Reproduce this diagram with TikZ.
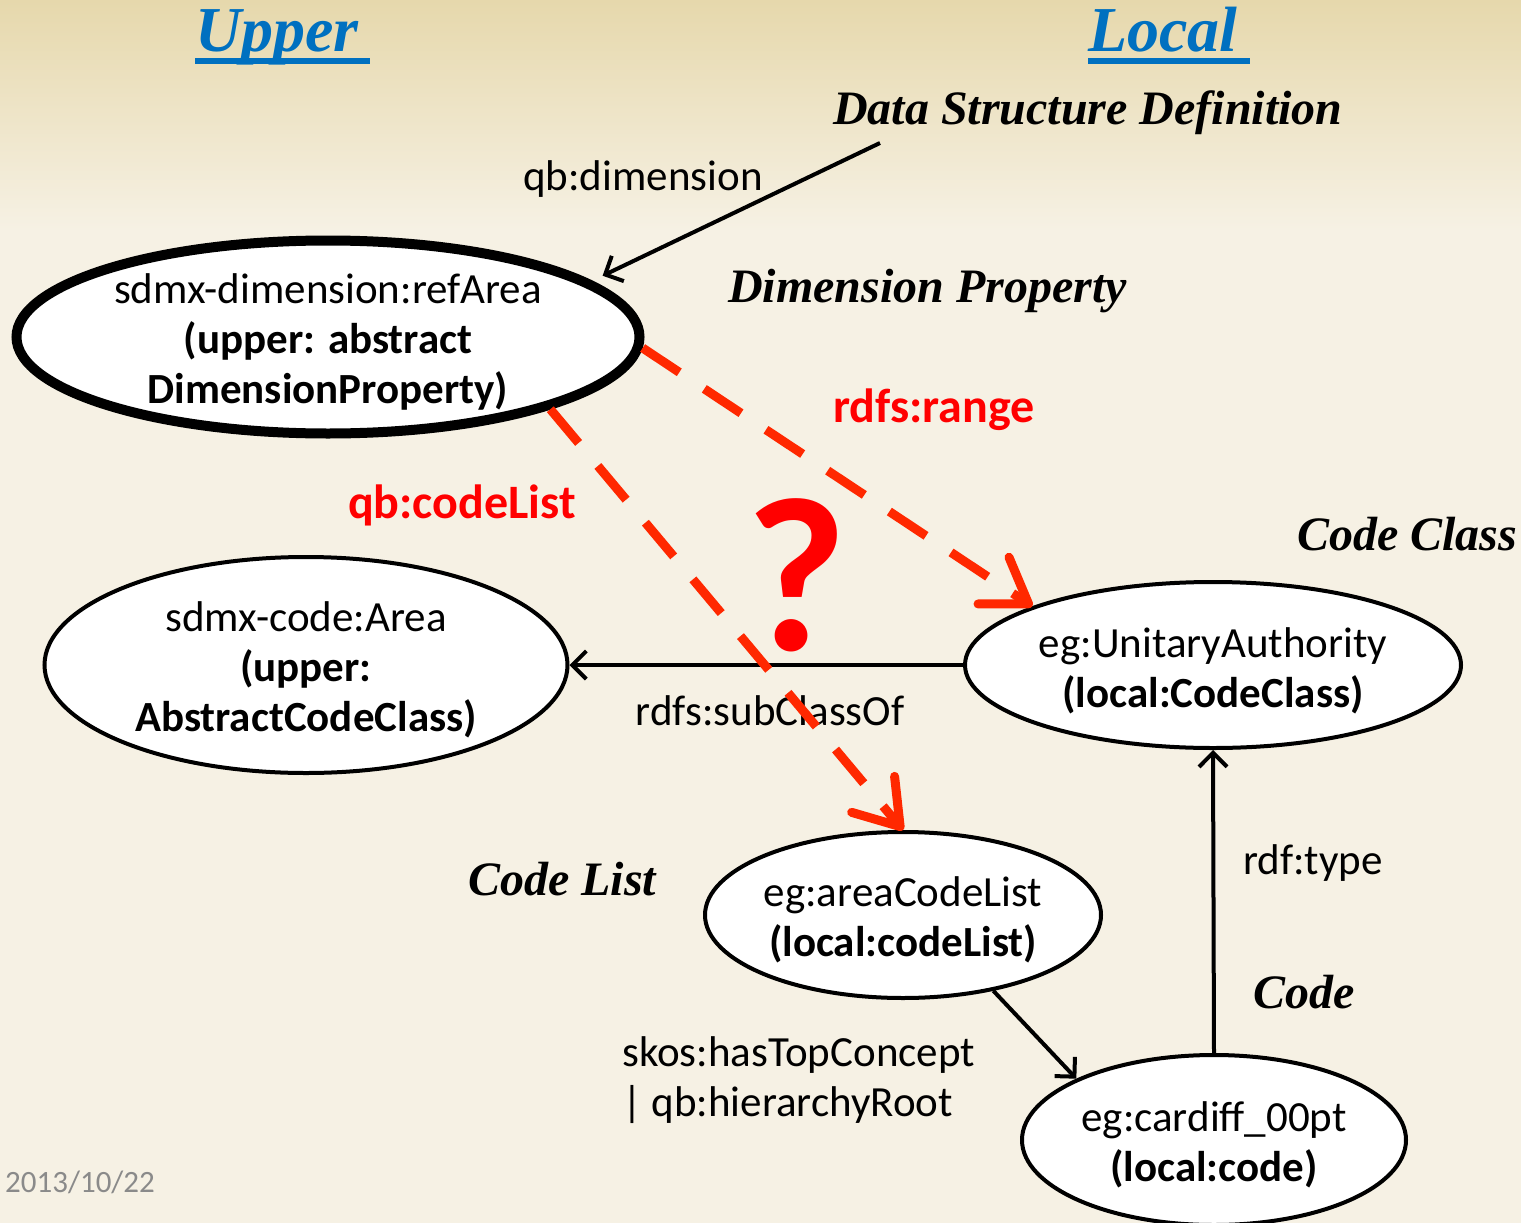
\documentclass[tikz,border=0pt]{standalone}
\usepackage{fontspec}
\setmainfont{Carlito}
\newfontfamily\headfont{Liberation Serif}
\usepackage{xcolor}
\usepackage{tikz}
\usetikzlibrary{shapes,arrows.meta,positioning}

\definecolor{bgtop}{HTML}{E6D8AC}
\definecolor{bgbody}{HTML}{F6F1E4}
\definecolor{titleblue}{HTML}{0070C0}
\definecolor{dashred}{HTML}{FF2800}
\definecolor{labelred}{HTML}{FF0000}
\definecolor{dategray}{HTML}{8A8A8A}

\begin{document}
\begin{tikzpicture}[x=1pt, y=-1pt]
    % Define styles
    \tikzstyle{concept} = [ellipse, draw=black, line width=4pt, fill=white, inner sep=0pt]
    \tikzstyle{keyconcept} = [concept, line width=10pt]
    \tikzstyle{nodetext} = [align=center, font=\fontsize{43}{50}\selectfont, inner sep=0pt]
    \tikzstyle{heading} = [anchor=base west, inner sep=0pt, font=\headfont\bfseries\itshape\fontsize{48}{56}\selectfont]
    \tikzstyle{side} = [heading, text=titleblue, font=\headfont\bfseries\itshape\fontsize{64}{72}\selectfont]
    \tikzstyle{tag} = [font=\fontsize{43}{50}\selectfont, inner sep=0pt]
    \tikzstyle{redtag} = [tag, text=labelred, font=\bfseries\fontsize{48}{56}\selectfont]
    \tikzstyle{link} = [line width=4pt, -{Straight Barb[length=14pt, width=28pt]}]
    \tikzstyle{redlink} = [draw=dashred, line width=9pt, dash pattern=on 44pt off 30pt, -{Straight Barb[length=42pt, width=56pt, round]}]

    % Background
    \shade[top color=bgtop, bottom color=bgbody] (0,0) rectangle (1521,230);
    \fill[bgbody] (0,229) rectangle (1521,1223);
    \useasboundingbox (0,0) rectangle (1521,1223);

    % Headings
    \node[side] (upper) at (195,52) {Upper};
    \node[side] (local) at (1088,52) {Local};
    \draw[titleblue, line width=6pt] ([yshift=-9pt]upper.base west) -- ++(175,0);
    \draw[titleblue, line width=6pt] ([yshift=-9pt]local.base west) -- ++(162,0);
    \node[heading] (dsd) at (833,124) {Data Structure Definition};
    \node[heading] (dimprop) at (728,302) {Dimension Property};
    \node[heading] (codeclass) at (1297,550) {Code Class};
    \node[heading] (codelisthd) at (468,895) {Code List};
    \node[heading] (codehd) at (1253,1008) {Code};

    % Nodes
    \node[keyconcept, minimum width=623pt, minimum height=193pt] (refarea) at (328,337) {};
    \node[nodetext] at ([yshift=-5pt]refarea) {sdmx-dimension:refArea\\\textbf{(upper: abstract}\\\textbf{DimensionProperty)}};
    \node[concept, minimum width=523pt, minimum height=216pt] (area) at (306,665) {};
    \node[nodetext] at ([yshift=-5pt]area) {sdmx-code:Area\\\textbf{(upper:}\\\textbf{AbstractCodeClass)}};
    \node[concept, minimum width=496pt, minimum height=166pt] (unitary) at (1213,665) {};
    \node[nodetext] at ([yshift=-6pt]unitary) {eg:UnitaryAuthority\\\textbf{(local:CodeClass)}};
    \node[concept, minimum width=396pt, minimum height=166pt] (arealist) at (903,915) {};
    \node[nodetext] at ([yshift=-5pt]arealist) {eg:areaCodeList\\\textbf{(local:codeList)}};
    \node[concept, minimum width=384pt, minimum height=170pt] (cardiff) at (1214,1140) {};
    \node[nodetext] at ([yshift=-5pt]cardiff) {eg:cardiff\_00pt\\\textbf{(local:code)}};

    % Labels
    \node[tag] (dimlabel) at (643,179) {qb:dimension};
    \node[tag] (subclasslabel) at (770,711) {rdfs:subClassOf};
    \node[tag] (typelabel) at (1313,863) {rdf:type};
    \node[tag, align=left, anchor=west] (toplabel) at (622,1080) {skos:hasTopConcept\\| qb:hierarchyRoot};
    \node[redtag] (rangelabel) at (934,410) {rdfs:range};
    \node[redtag] (codelistlabel) at (462,505) {qb:codeList};
    \node[text=labelred, font=\bfseries\fontsize{220}{220}\selectfont, inner sep=0pt] (query) at (796,575) {?};
    \node[text=dategray, font=\fontsize{31}{36}\selectfont, anchor=west, inner sep=0pt] (date) at (5,1182) {2013/10/22};

    % Connections
    \coordinate (dsdfoot) at (880,143);
    \draw[link, shorten >=12pt] (dsdfoot) -- (refarea.12);
    \draw[link] (unitary.west) -- (area.east);
    \draw[link] (cardiff.north) -- (unitary.south);
    \draw[link] (arealist.-40) -- (cardiff.156);
    \draw[redlink] (refarea.-2) -- (unitary.162);
    \draw[redlink] (refarea.-18) -- (arealist.north);
\end{tikzpicture}
\end{document}
